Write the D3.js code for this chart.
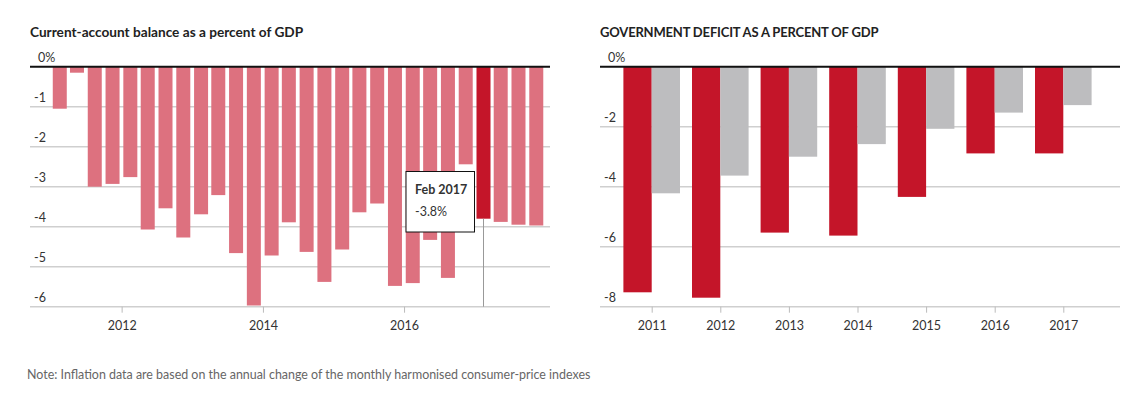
<!DOCTYPE html>
<html>
<head>
<meta charset="utf-8">
<script src="https://cdn.jsdelivr.net/npm/d3@7"></script>
<style>
  body { margin: 0; background: #fff; }
  svg text { font-family: Lato, "Open Sans", sans-serif; fill: #333; }
  .title { font-weight: bold; font-size: 13px; fill: #222; }
  .lbl { font-size: 12.5px; }
  .note { font-size: 12.45px; fill: #666; }
</style>
</head>
<body>
<svg id="chart" width="1126" height="393"></svg>
<script>
// current-account balance, quarterly (month of each bar)
const caMonths = [
  '2011-02', '2011-05', '2011-08', '2011-11',
  '2012-02', '2012-05', '2012-08', '2012-11',
  '2013-02', '2013-05', '2013-08', '2013-11',
  '2014-02', '2014-05', '2014-08', '2014-11',
  '2015-02', '2015-05', '2015-08', '2015-11',
  '2016-02', '2016-05', '2016-08', '2016-11',
  '2017-02', '2017-05', '2017-08', '2017-11'
];
const caValues = [
  -1.05, -0.15, -3.0, -2.93,
  -2.76, -4.07, -3.54, -4.27,
  -3.69, -3.21, -4.66, -5.97,
  -4.72, -3.89, -4.63, -5.38,
  -4.57, -3.64, -3.42, -5.48,
  -5.41, -4.33, -5.28, -2.44,
  -3.8, -3.88, -3.95, -3.97
];
const caTicks = [0, -1, -2, -3, -4, -5, -6];
const caHighlight = '2017-02';

// government deficit
const defYears = ['2011', '2012', '2013', '2014', '2015', '2016', '2017'];
const defSeries = ['a', 'b'];
const defA = [-7.52, -7.7, -5.53, -5.63, -4.34, -2.89, -2.89];
const defB = [-4.22, -3.63, -3.0, -2.58, -2.07, -1.53, -1.28];
const defTicks = [0, -2, -4, -6, -8];

const red = '#c41529';
const pink = '#dd717f';
const grey = '#bdbdbf';

const svg = d3.select('#chart');
const parseMonth = d3.timeParse('%Y-%m');
const midMonth = s => { const d = parseMonth(s); return new Date(d.getFullYear(), d.getMonth(), 15); };

// ---------- left chart ----------
const left = { x0: 30, x1: 550, top: 66.7, bottom: 306.7 };

const xL = d3.scaleTime()
  .domain([new Date(2010, 8, 14), new Date(2018, 0, 25)])
  .range([left.x0, left.x1]);
const yL = d3.scaleLinear().domain([0, -6]).range([left.top, left.bottom]);

svg.append('text').attr('class', 'title')
  .attr('x', 30).attr('y', 37)
  .style('font-size', '13.65px')
  .text('Current-account balance as a percent of GDP');

const gL = svg.append('g');

gL.selectAll('line.grid')
  .data(caTicks.filter(d => d !== 0))
  .enter().append('line')
  .attr('class', 'grid')
  .attr('x1', left.x0).attr('x2', left.x1)
  .attr('y1', d => yL(d)).attr('y2', d => yL(d))
  .attr('stroke', '#cfcfcf').attr('stroke-width', 1.5);

gL.selectAll('text.ylab')
  .data(caTicks)
  .enter().append('text')
  .attr('class', 'lbl ylab')
  .attr('x', d => d === 0 ? 38 : 34)
  .attr('y', d => yL(d) - 5)
  .text(d => d === 0 ? '0%' : d);

const axL = gL.append('g')
  .attr('transform', `translate(0, ${left.bottom})`)
  .call(d3.axisBottom(xL)
    .tickValues([new Date(2012, 0, 1), new Date(2014, 0, 1), new Date(2016, 0, 1)])
    .tickFormat(d3.timeFormat('%Y'))
    .tickSize(6).tickPadding(8));
axL.select('.domain').remove();
axL.selectAll('.tick line').attr('stroke', '#bbb');
axL.selectAll('.tick text').attr('class', 'lbl').attr('fill', '#333').style('font-size', '12.5px');

const barW = 14;
gL.selectAll('rect.bar')
  .data(caMonths.map((m, i) => ({ m, v: caValues[i] })))
  .enter().append('rect')
  .attr('class', 'bar')
  .attr('x', d => xL(midMonth(d.m)) - barW / 2)
  .attr('width', barW)
  .attr('y', yL(0))
  .attr('height', d => yL(d.v) - yL(0))
  .attr('fill', d => d.m === caHighlight ? red : pink);

gL.append('line')
  .attr('x1', left.x0).attr('x2', left.x1)
  .attr('y1', yL(0)).attr('y2', yL(0))
  .attr('stroke', '#111').attr('stroke-width', 2);

// tooltip for highlighted bar
const hiIdx = caMonths.indexOf(caHighlight);
const hx = xL(midMonth(caHighlight));
const hv = caValues[hiIdx];
gL.append('line')
  .attr('x1', hx).attr('x2', hx)
  .attr('y1', yL(hv)).attr('y2', yL(-6))
  .attr('stroke', '#999').attr('stroke-width', 1);

const tip = gL.append('g').attr('transform', `translate(${hx - 77.5}, 171.5)`);
tip.append('rect')
  .attr('width', 68.5).attr('height', 60.5)
  .attr('fill', '#fff').attr('stroke', '#111').attr('stroke-width', 1);
tip.append('text')
  .attr('x', 9).attr('y', 22)
  .style('font-size', '12.5px').style('font-weight', 'bold').attr('fill', '#111')
  .text(d3.timeFormat('%b %Y')(parseMonth(caHighlight)));
tip.append('text')
  .attr('x', 9).attr('y', 44)
  .style('font-size', '12.5px')
  .text(hv.toFixed(1) + '%');

// ---------- right chart ----------
const right = { x0: 600, x1: 1120, top: 66.7, bottom: 306.7 };

const xR = d3.scalePoint().domain(defYears).range([651.7, 1063.3]);
const xR1 = d3.scaleBand().domain(defSeries).range([-28.3, 28.3]);
const yR = d3.scaleLinear().domain([0, -8]).range([right.top, right.bottom]);

svg.append('text').attr('class', 'title')
  .attr('x', 600).attr('y', 37)
  .style('letter-spacing', '-0.18px')
  .text('GOVERNMENT DEFICIT AS A PERCENT OF GDP');

const gR = svg.append('g');

gR.selectAll('line.grid')
  .data(defTicks.filter(d => d !== 0))
  .enter().append('line')
  .attr('class', 'grid')
  .attr('x1', right.x0).attr('x2', right.x1)
  .attr('y1', d => yR(d)).attr('y2', d => yR(d))
  .attr('stroke', '#cfcfcf').attr('stroke-width', 1.5);

gR.selectAll('text.ylab')
  .data(defTicks)
  .enter().append('text')
  .attr('class', 'lbl ylab')
  .attr('x', d => d === 0 ? 608 : 604)
  .attr('y', d => yR(d) - 5)
  .text(d => d === 0 ? '0%' : d);

const axR = gR.append('g')
  .attr('transform', `translate(0, ${right.bottom})`)
  .call(d3.axisBottom(xR).tickSize(6).tickPadding(8));
axR.select('.domain').remove();
axR.selectAll('.tick line').attr('stroke', '#bbb');
axR.selectAll('.tick text').attr('fill', '#333').style('font-size', '12.5px');

const defRows = defYears.map((y, i) => ({ y, vals: [defA[i], defB[i]] }));
const groups = gR.selectAll('g.year')
  .data(defRows)
  .enter().append('g')
  .attr('class', 'year')
  .attr('transform', d => `translate(${xR(d.y)}, 0)`);

groups.selectAll('rect')
  .data(d => d.vals.map((v, j) => ({ s: defSeries[j], v })))
  .enter().append('rect')
  .attr('x', d => xR1(d.s))
  .attr('width', xR1.bandwidth())
  .attr('y', yR(0))
  .attr('height', d => yR(d.v) - yR(0))
  .attr('fill', d => d.s === 'a' ? red : grey);

gR.append('line')
  .attr('x1', right.x0).attr('x2', right.x1)
  .attr('y1', yR(0)).attr('y2', yR(0))
  .attr('stroke', '#111').attr('stroke-width', 2);

// ---------- note ----------
svg.append('text').attr('class', 'note')
  .attr('x', 27).attr('y', 379)
  .text('Note: Inflation data are based on the annual change of the monthly harmonised consumer-price indexes');
</script>
</body>
</html>
